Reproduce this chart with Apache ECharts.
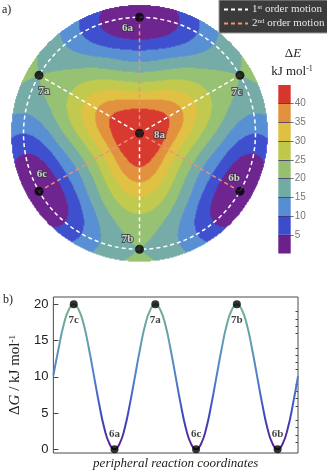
<!DOCTYPE html>
<html><head><meta charset="utf-8">
<script src="https://cdn.jsdelivr.net/npm/echarts@6/dist/echarts.min.js"></script>
<style>html,body{margin:0;padding:0;background:#fff}#c{width:327px;height:471px}</style>
</head><body><div id="c"></div>
<script>
// ================= DATA =================
// stationary points on the potential energy surface (panel a)
const pointNames  = ['8a','6a','7c','6b','7b','6c','7a'];
const pointRadius = [0, 1, 1, 1, 1, 1, 1];           // in units of the dashed circle radius
const pointAngle  = [0, 90, 30, 330, 270, 210, 150];  // degrees, counter-clockwise from east
const firstOrderAngles  = [30, 150, 270];   // 8a -> 7x (white dashed)
const secondOrderAngles = [90, 210, 330];   // 8a -> 6x (salmon dashed)
// radial profiles of ΔE (kJ/mol) read along the 6x and the 7x directions
const radialSamples = [0, 0.1, 0.2, 0.3, 0.4, 0.5, 0.6, 0.7, 0.8, 0.9, 1.0, 1.1, 1.2];
const e6Profile = [45, 43.8, 40.8, 34.3, 27.6, 21.7, 16.0, 11.0, 5.5, 1.4, 0.0, 1.4, 5.5];
const e7Profile = [45, 44.3, 42.3, 39.6, 35.8, 31.8, 28.2, 24.8, 22.2, 20.6, 20.0, 20.6, 22.2];
// contour levels / colour bar
const contourLevels = [0, 5, 10, 15, 20, 25, 30, 35, 40, 45];
const colorbarTicks = [5, 10, 15, 20, 25, 30, 35, 40];
// panel b: ΔG along the peripheral reaction coordinate
const curveX = [0.5,0.625,0.75,0.875,1,1.125,1.25,1.375,1.5,1.625,1.75,1.875,2,2.125,2.25,2.375,2.5,2.625,2.75,2.875,3,3.125,3.25,3.375,3.5,3.625,3.75,3.875,4,4.125,4.25,4.375,4.5,4.625,4.75,4.875,5,5.125,5.25,5.375,5.5,5.625,5.75,5.875,6,6.125,6.25,6.375,6.5];
const curveY = [10.2,13.8,17.1,19.2,20,19.2,17.1,13.8,10,6.2,2.9,0.8,0,0.8,2.9,6.2,10,13.8,17.1,19.2,20,19.2,17.1,13.8,10,6.2,2.9,0.8,0,0.8,2.9,6.2,10,13.8,17.1,19.2,20,19.2,17.1,13.8,10,6.2,2.9,0.8,0,0.8,2.9,6.2,10.1];
const extremaNames = ['7c','6a','7a','6c','7b','6b'];
const extremaX = [1, 2, 3, 4, 5, 6];
const extremaY = [20, 0, 20, 0, 20, 0];
const gMajorTicks = [0, 5, 10, 15, 20];
const gMinorTicks = [1,2,3,4,6,7,8,9,11,12,13,14,16,17,18,19];

// ================= STYLE =================
const bandColors = ['#6c208c','#3c4dcc','#568cd2','#72aaa4','#96c070','#c0c84c','#e0c040','#e2903c','#d6362c'];
const curveColors = ['#5a1d8e','#3c4bc8','#4f80cc','#5f9db4','#78b288'];
const serif = 'Liberation Serif, Times New Roman, serif';
const sans = 'Liberation Sans, Arial, sans-serif';
const CX = 139.5, CY = 133.3, RDASH = 116, ROUT = 128;
const labelOffsets = {'8a':[20,2],'6a':[-12,11],'7c':[-3,17],'6b':[-6,-13],'7b':[-12,-10],'6c':[3,-17],'7a':[5,16]};

// smooth reading of a sampled radial profile
function profileAt(arr, r) {
  const step = radialSamples[1] - radialSamples[0];
  const n = arr.length;
  let f = r / step; let i = Math.min(Math.floor(f), n - 2); const t = f - i;
  const p0 = arr[Math.max(i - 1, 0)], p1 = arr[i], p2 = arr[i + 1], p3 = arr[Math.min(i + 2, n - 1)];
  return 0.5 * ((2 * p1) + (-p0 + p2) * t + (2 * p0 - 5 * p1 + 4 * p2 - p3) * t * t + (-p0 + 3 * p1 - 3 * p2 + p3) * t * t * t);
}

// field on a grid of 1px cells covering the disc
const N = 2 * ROUT;
const HALF = ROUT / RDASH;
const cells = [];
for (let j = 0; j < N; j++) {
  for (let i = 0; i < N; i++) {
    const u = ((i + 0.5) / N * 2 - 1) * HALF;
    const v = ((j + 0.5) / N * 2 - 1) * HALF;
    const r = Math.hypot(u, v);
    if (r > HALF) continue;
    const phi = Math.atan2(v, u) - Math.PI / 2;
    const e6 = profileAt(e6Profile, r), e7 = profileAt(e7Profile, r);
    cells.push([i, j, (e6 + e7) / 2 - (e7 - e6) / 2 * Math.cos(3 * phi)]);
  }
}
const idx = Array.from({length: N}, (_, i) => i);

const pieces = [];
for (let k = 0; k < contourLevels.length - 1; k++) {
  const p = {color: bandColors[k]};
  if (k > 0) p.gte = contourLevels[k];
  if (k < contourLevels.length - 2) p.lt = contourLevels[k + 1];
  pieces.push(p);
}

const series = [];
// 0: heatmap
series.push({type: 'heatmap', xAxisIndex: 0, yAxisIndex: 0, data: cells, progressive: 0, silent: true, emphasis: {disabled: true}, z: 1});
// 1: curve (panel b)
series.push({type: 'line', xAxisIndex: 2, yAxisIndex: 2, data: curveX.map((x, i) => [x, curveY[i]]),
  smooth: true, symbol: 'none', lineStyle: {width: 2}, silent: true, z: 3});
// spokes
firstOrderAngles.forEach(a => series.push({type: 'line', name: '1st order motion', coordinateSystem: 'polar', polarIndex: 0,
  data: [[0, a], [1, a]], symbol: 'none', silent: true, z: 4,
  lineStyle: {color: '#ffffff', width: 1.5, type: [4, 3]}, itemStyle: {color: '#ffffff'}}));
secondOrderAngles.forEach(a => series.push({type: 'line', name: '2nd order motion', coordinateSystem: 'polar', polarIndex: 0,
  data: [[0, a], [1, a]], symbol: 'none', silent: true, z: 4,
  lineStyle: {color: '#f0907a', width: 1.5, type: [4, 3]}, itemStyle: {color: '#f0907a'}}));
// stationary points
series.push({type: 'scatter', coordinateSystem: 'polar', polarIndex: 0, symbolSize: 9, silent: true, z: 6,
  itemStyle: {color: '#000'},
  data: pointNames.map((n, k) => ({name: n, value: [pointRadius[k], pointAngle[k]], label: {offset: labelOffsets[n]}})),
  label: {show: true, position: 'inside', formatter: '{b}', color: '#f2f2f2', fontFamily: serif, fontWeight: 'bold', fontSize: 11,
    textBorderColor: '#3a3a3a', textBorderWidth: 2}});
// colour bar
for (let k = 0; k < contourLevels.length - 1; k++) {
  const s = {type: 'bar', xAxisIndex: 1, yAxisIndex: 1, stack: 'cb', barWidth: '100%', silent: true,
    data: [contourLevels[k + 1] - contourLevels[k]], itemStyle: {color: bandColors[k]}};
  if (k === contourLevels.length - 2) {
    s.markLine = {silent: true, symbol: ['none', 'none'], label: {show: false},
      lineStyle: {color: '#3c3070', width: 1, type: 'solid', opacity: 0.8},
      data: colorbarTicks.map(v => ({yAxis: v}))};
  }
  series.push(s);
}
// extrema (panel b)
series.push({type: 'scatter', xAxisIndex: 2, yAxisIndex: 2, symbolSize: 8, silent: true, z: 5,
  itemStyle: {color: '#000'},
  data: extremaNames.map((n, k) => ({name: n, value: [extremaX[k], extremaY[k]],
    label: {offset: extremaY[k] > 10 ? [0, 16] : [0, -15]}})),
  label: {show: true, position: 'inside', formatter: '{b}', color: '#111', fontFamily: serif, fontWeight: 'bold', fontSize: 11}});

const option = {
  animation: false,
  backgroundColor: '#ffffff',
  grid: [
    {left: CX - ROUT, top: CY - ROUT, width: 2 * ROUT, height: 2 * ROUT, show: false},
    {left: 278.3, top: 85, width: 12.4, height: 168.5, show: false},
    {left: 47, top: 297, width: 251, height: 156, show: true, borderColor: '#4a4a4a', borderWidth: 1, backgroundColor: 'transparent'}
  ],
  xAxis: [
    {gridIndex: 0, type: 'category', data: idx, show: false},
    {gridIndex: 1, type: 'category', data: ['cb'], show: false},
    {gridIndex: 2, type: 'value', min: 0.5, max: 6.5, axisLine: {show: false}, axisTick: {show: false}, axisLabel: {show: false}, splitLine: {show: false},
      name: 'peripheral reaction coordinates', nameLocation: 'middle', nameGap: 4,
      nameTextStyle: {fontFamily: serif, fontStyle: 'italic', fontSize: 13, color: '#222', verticalAlign: 'top'}}
  ],
  yAxis: [
    {gridIndex: 0, type: 'category', data: idx, show: false},
    {gridIndex: 1, type: 'value', min: 0, max: 45, position: 'right', axisLine: {show: false}, splitLine: {show: false},
      axisTick: {show: true, customValues: colorbarTicks, length: 3, lineStyle: {color: '#777'}},
      axisLabel: {customValues: colorbarTicks, color: '#777', fontSize: 10, margin: 4, fontFamily: sans}},
    {gridIndex: 2, type: 'value', min: -0.5, max: 21, axisLine: {show: false}, splitLine: {show: false},
      axisTick: {show: true, inside: true, length: 5, customValues: gMajorTicks, lineStyle: {color: '#444'}},
      axisLabel: {customValues: gMajorTicks, color: '#222', fontSize: 13, margin: 5, fontFamily: sans},
      name: '{d|Δ}{i|G}{d| / kJ mol}{s|-1}', nameLocation: 'middle', nameGap: 24, nameRotate: 90,
      nameTextStyle: {rich: {
        d: {fontFamily: serif, fontSize: 15, color: '#222', verticalAlign: 'bottom'},
        i: {fontFamily: serif, fontSize: 15, fontStyle: 'italic', color: '#222', verticalAlign: 'bottom'},
        s: {fontFamily: serif, fontSize: 9, color: '#222', verticalAlign: 'top'}}}},
    {gridIndex: 2, type: 'value', min: -0.5, max: 21, axisLine: {show: false}, splitLine: {show: false}, axisLabel: {show: false},
      axisTick: {show: true, inside: true, length: 2.5, customValues: gMinorTicks, lineStyle: {color: '#444'}}}
  ],
  polar: [{center: [CX, CY], radius: RDASH}],
  angleAxis: [{polarIndex: 0, type: 'value', min: 0, max: 360, startAngle: 0, clockwise: false, z: 3,
    axisLine: {show: true, lineStyle: {color: '#ffffff', width: 1.5, type: [4, 3]}},
    axisTick: {show: false}, axisLabel: {show: false}, splitLine: {show: false}}],
  radiusAxis: [{polarIndex: 0, type: 'value', min: 0, max: 1, show: false}],
  visualMap: [
    {type: 'piecewise', show: false, seriesIndex: 0, dimension: 2, pieces: pieces},
    {type: 'continuous', show: false, seriesIndex: 1, dimension: 1, min: 0, max: 20, inRange: {color: curveColors}}
  ],
  legend: {
    data: ['1st order motion', '2nd order motion'], orient: 'vertical', left: 219, top: 0,
    padding: [4, 5, 4, 4], itemGap: 3, itemWidth: 24, itemHeight: 9,
    backgroundColor: '#3b3b3b', borderColor: '#9a9a9a', borderWidth: 1, borderRadius: 0,
    selectedMode: false,
    itemStyle: {opacity: 0},
    formatter: n => n.charAt(0) === '1' ? '1{s|st} order motion' : '2{s|nd} order motion',
    textStyle: {color: '#e8e8e8', fontFamily: serif, fontSize: 11, padding: [0, 0, 0, -1],
      rich: {s: {color: '#e8e8e8', fontFamily: serif, fontSize: 7, verticalAlign: 'top'}}}
  },
  graphic: [
    {type: 'text', x: 2, y: 4, style: {text: 'a)', font: '12px ' + serif, fill: '#222'}},
    {type: 'text', x: 3, y: 294, style: {text: 'b)', font: '12px ' + serif, fill: '#222'}},
    {type: 'text', x: 293, y: 47, style: {text: '{n|Δ}{i|E}', align: 'center', fill: '#222',
      rich: {n: {fontFamily: serif, fontSize: 13, fill: '#222'}, i: {fontFamily: serif, fontSize: 13, fontStyle: 'italic', fill: '#222'}}}},
    {type: 'text', x: 292, y: 65, style: {text: '{n|kJ mol}{s|-1}', align: 'center', fill: '#222',
      rich: {n: {fontFamily: serif, fontSize: 13, fill: '#222', verticalAlign: 'bottom'}, s: {fontFamily: serif, fontSize: 8, fill: '#222', verticalAlign: 'top'}}}}
  ],
  series: series
};
const chart = echarts.init(document.getElementById('c'));
chart.setOption(option);
</script>
</body></html>
